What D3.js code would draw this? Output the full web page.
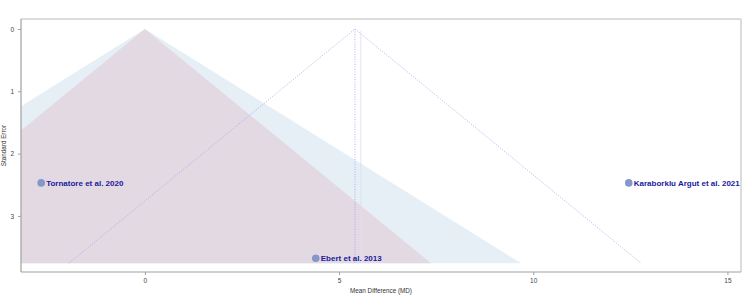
<!DOCTYPE html>
<html>
<head>
<meta charset="utf-8">
<script src="https://cdn.jsdelivr.net/npm/d3@7"></script>
<style>
  body { margin: 0; background: #fff; }
  svg { font-family: "Liberation Sans", Arial, sans-serif; }
</style>
</head>
<body>
<div id="chart"></div>
<script>
const studies = ["Tornatore et al. 2020", "Ebert et al. 2013", "Karaborklu Argut et al. 2021"];
const meanDiff = [-2.67, 4.40, 12.46];
const stdErr = [2.47, 3.68, 2.47];
const xTicks = [0, 5, 10, 15];
const yTicks = [0, 1, 2, 3];
const pooledMD = 5.41;
const randomMD = 5.56;
const seMax = 3.76;

const width = 750, height = 296;
const margins = {top: 19, right: 9, bottom: 24, left: 21};

const svg = d3.select("#chart").append("svg")
  .attr("width", width).attr("height", height);

const x = d3.scaleLinear().domain([-3.19, 15.35]).range([margins.left, width - margins.right]);
const y = d3.scaleLinear().domain([-0.16, 3.9]).range([margins.top, height - margins.bottom]);

svg.append("clipPath").attr("id", "clip")
  .append("rect")
  .attr("x", x.range()[0]).attr("y", y.range()[0])
  .attr("width", x.range()[1] - x.range()[0]).attr("height", y.range()[1] - y.range()[0]);

const plot = svg.append("g").attr("clip-path", "url(#clip)");

// contour regions around zero
function funnel(z, center) {
  return [[center - z * seMax, seMax], [center, 0], [center + z * seMax, seMax]];
}
const area = d3.line().x(d => x(d[0])).y(d => y(d[1]));

plot.append("path").attr("d", area(funnel(2.576, 0)) + "Z").attr("fill", "#e5eff5");
plot.append("path").attr("d", area(funnel(1.96, 0)) + "Z").attr("fill", "#e3d9e3");

// funnel around pooled estimate
plot.append("path").attr("d", area(funnel(1.96, pooledMD)))
  .attr("fill", "none").attr("stroke", "#9d9ff0").attr("stroke-width", 0.8)
  .attr("stroke-dasharray", "1,1.5");
plot.append("line")
  .attr("x1", x(pooledMD)).attr("x2", x(pooledMD))
  .attr("y1", y(0)).attr("y2", y(seMax))
  .attr("stroke", "#9d9ff0").attr("stroke-width", 0.8).attr("stroke-dasharray", "1,1.5");
plot.append("line")
  .attr("x1", x(randomMD)).attr("x2", x(randomMD))
  .attr("y1", y(0.03)).attr("y2", y(seMax))
  .attr("stroke", "#dcdcf6").attr("stroke-width", 0.8);

// frame
svg.append("line").attr("x1", x.range()[0]).attr("x2", x.range()[1])
  .attr("y1", y.range()[0]).attr("y2", y.range()[0])
  .attr("stroke", "#dcdcdc").attr("stroke-width", 2);
svg.append("line").attr("x1", x.range()[1]).attr("x2", x.range()[1])
  .attr("y1", y.range()[0]).attr("y2", y.range()[1])
  .attr("stroke", "#dcdcdc").attr("stroke-width", 2);

// axes
const xAxis = svg.append("g")
  .attr("transform", "translate(0," + y.range()[1] + ")")
  .call(d3.axisBottom(x).tickValues(xTicks).tickFormat(d3.format("d")).tickSize(3).tickPadding(3));
const yAxis = svg.append("g")
  .attr("transform", "translate(" + x.range()[0] + ",0)")
  .call(d3.axisLeft(y).tickValues(yTicks).tickFormat(d3.format("d")).tickSize(3).tickPadding(4));

[xAxis, yAxis].forEach(function(g) {
  g.select(".domain").attr("stroke", "#a0a0a0").attr("stroke-width", 1.2);
  g.selectAll(".tick line").attr("stroke", "#a0a0a0");
  g.selectAll("text").attr("font-size", "6.5px").attr("fill", "#444");
});
xAxis.select(".domain").attr("d", "M" + x.range()[0] + ",0H" + x.range()[1]);
yAxis.select(".domain").attr("d", "M0," + y.range()[0] + "V" + y.range()[1]);

svg.append("text")
  .attr("x", (x.range()[0] + x.range()[1]) / 2).attr("y", 293)
  .attr("text-anchor", "middle").attr("font-size", "6.3px").attr("fill", "#333")
  .text("Mean Difference (MD)");
svg.append("text")
  .attr("transform", "translate(6," + ((y.range()[0] + y.range()[1]) / 2) + ") rotate(-90)")
  .attr("text-anchor", "middle").attr("font-size", "6.3px").attr("fill", "#333")
  .text("Standard Error");

// study points
const data = studies.map((s, i) => ({name: s, md: meanDiff[i], se: stdErr[i]}));
const pts = svg.append("g").selectAll("g").data(data).join("g")
  .attr("transform", d => "translate(" + x(d.md) + "," + y(d.se) + ")");
pts.append("circle").attr("r", 3.8).attr("fill", "#8497c9");
pts.append("text")
  .attr("x", 5).attr("dy", "0.36em")
  .attr("font-size", "8px").attr("font-weight", "bold").attr("fill", "#1a1a9a")
  .text(d => d.name);
</script>
</body>
</html>
